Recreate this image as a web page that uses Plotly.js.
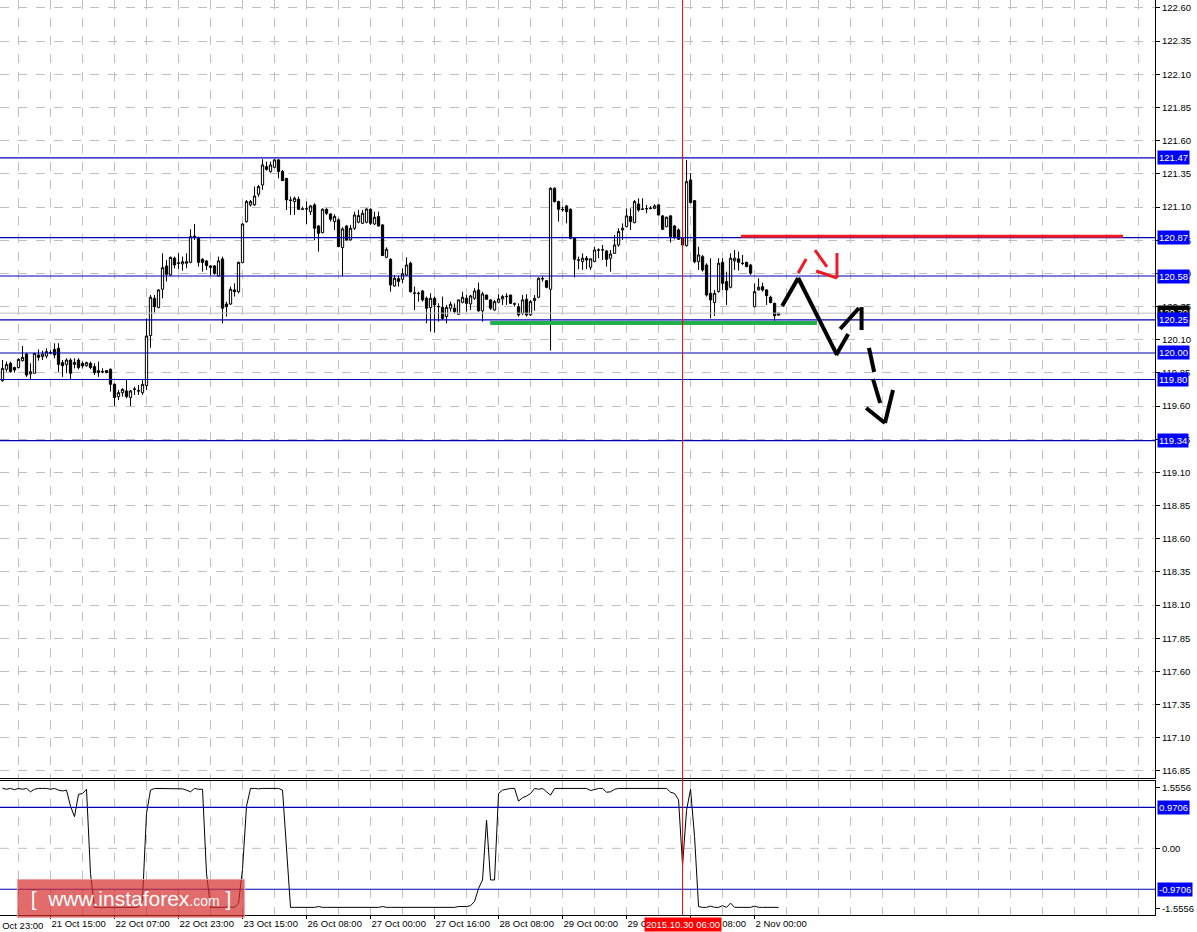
<!DOCTYPE html>
<html><head><meta charset="utf-8">
<script src="https://cdn.plot.ly/plotly-3.0.1.min.js"></script>
<style>html,body{margin:0;padding:0;background:#fff;} #chart{width:1197px;height:932px;}</style>
</head><body><div id="chart"></div>
<script>
// ---- H1 candles (bar index 0 = 21 Oct 03:00) ----
const openP = [119.791,119.877,119.922,119.890,119.890,119.942,119.992,119.842,119.847,119.985,
119.972,119.977,120.002,120.027,120.035,119.927,119.914,119.947,119.914,119.947,
119.922,119.904,119.922,119.897,119.867,119.860,119.867,119.877,119.764,119.671,
119.701,119.714,119.664,119.729,119.716,119.701,119.754,120.131,120.412,120.342,
120.480,120.656,120.588,120.714,120.676,120.671,120.676,120.683,120.880,120.864,
120.706,120.693,120.656,120.656,120.580,120.709,120.369,120.369,120.475,120.462,
120.681,120.990,121.116,121.116,121.196,121.266,121.404,121.367,121.399,121.455,
121.367,121.316,121.153,121.141,121.158,121.083,121.085,121.065,121.116,120.957,
120.907,121.083,121.048,120.990,121.003,120.794,120.957,120.852,120.940,120.985,
120.977,120.985,121.083,120.972,121.028,120.965,120.721,120.706,120.505,120.560,
120.555,120.588,120.676,120.450,120.450,120.467,120.412,120.342,120.412,120.349,
120.344,120.274,120.337,120.337,120.292,120.382,120.412,120.370,120.412,120.475,
120.317,120.437,120.400,120.324,120.382,120.407,120.425,120.437,120.369,120.349,
120.299,120.405,120.287,120.395,120.420,120.558,120.545,120.480,121.241,121.141,
121.083,121.108,121.083,120.864,120.701,120.689,120.714,120.646,120.689,120.776,
120.776,120.769,120.714,120.751,120.814,120.927,120.952,121.028,120.982,121.123,
121.085,121.088,121.088,121.090,121.116,121.033,120.952,121.033,120.957,120.927,
120.864,120.809,121.304,121.148,120.688,120.726,120.663,120.450,120.380,120.462,
120.683,120.538,120.495,120.694,120.709,120.676,120.683,120.663,120.349,120.475,
120.500,120.475,120.420,120.374,120.285];
const highP = [119.947,119.935,119.935,119.897,119.960,120.053,120.002,119.922,120.000,120.027,
120.017,120.035,120.020,120.073,120.073,119.947,119.960,119.960,119.960,119.960,
119.935,119.935,119.935,119.922,119.935,119.884,119.872,119.884,119.771,119.721,
119.734,119.802,119.721,119.746,119.759,119.796,120.261,120.437,120.437,120.480,
120.751,120.701,120.726,120.726,120.751,120.726,120.751,120.932,120.972,120.877,
120.714,120.701,120.663,120.663,120.726,120.726,120.387,120.500,120.525,120.688,
120.977,121.153,121.153,121.254,121.266,121.460,121.442,121.442,121.460,121.460,
121.379,121.316,121.178,121.178,121.178,121.103,121.141,121.116,121.128,120.965,
121.090,121.090,121.053,121.045,121.015,120.947,120.965,120.965,121.065,121.078,
121.078,121.090,121.090,121.065,121.065,120.972,120.796,120.714,120.588,120.580,
120.638,120.721,120.689,120.500,120.462,120.475,120.425,120.450,120.425,120.374,
120.425,120.362,120.387,120.374,120.400,120.462,120.437,120.437,120.488,120.530,
120.462,120.437,120.405,120.400,120.442,120.437,120.450,120.437,120.380,120.374,
120.437,120.442,120.400,120.437,120.570,120.580,120.550,121.249,121.249,121.148,
121.103,121.116,121.090,120.869,120.726,120.751,120.731,120.714,120.801,120.789,
120.814,120.776,120.776,120.889,120.940,120.977,121.090,121.090,121.153,121.166,
121.166,121.116,121.108,121.121,121.121,121.040,121.028,121.040,120.965,120.940,
120.872,121.455,121.354,121.153,120.801,120.739,120.676,120.714,120.475,120.714,
120.714,120.613,120.751,120.776,120.764,120.739,120.688,120.671,120.525,120.563,
120.530,120.480,120.432,120.379,120.300];
const lowP = [119.784,119.859,119.852,119.852,119.884,119.935,119.820,119.797,119.847,119.942,
119.947,119.960,119.990,119.960,119.859,119.820,119.847,119.797,119.884,119.877,
119.884,119.897,119.877,119.834,119.820,119.847,119.847,119.709,119.601,119.646,
119.671,119.658,119.601,119.684,119.684,119.684,119.721,120.040,120.304,120.337,
120.412,120.538,120.583,120.638,120.631,120.620,120.638,120.676,120.852,120.651,
120.613,120.626,120.586,120.590,120.575,120.224,120.274,120.362,120.425,120.450,
120.676,120.982,121.103,121.108,121.178,121.229,121.374,121.359,121.392,121.316,
121.296,121.078,121.040,121.040,121.078,121.078,120.972,121.040,120.852,120.764,
120.902,121.040,120.990,120.927,120.797,120.580,120.847,120.847,120.927,120.977,
120.972,120.977,120.965,120.965,120.952,120.731,120.714,120.462,120.500,120.500,
120.525,120.581,120.455,120.324,120.387,120.387,120.224,120.161,120.154,120.236,
120.249,120.224,120.312,120.299,120.287,120.374,120.312,120.324,120.400,120.312,
120.236,120.400,120.324,120.319,120.374,120.362,120.362,120.369,120.349,120.274,
120.287,120.274,120.279,120.319,120.412,120.538,120.488,120.018,121.133,120.990,
121.065,120.977,120.857,120.570,120.631,120.626,120.631,120.626,120.684,120.714,
120.701,120.651,120.613,120.746,120.801,120.852,120.947,120.927,120.977,121.065,
121.078,121.053,121.083,121.083,121.035,120.927,120.947,120.832,120.857,120.852,
120.809,120.801,121.128,120.676,120.626,120.613,120.425,120.261,120.279,120.455,
120.475,120.362,120.487,120.626,120.621,120.663,120.646,120.588,120.344,120.470,
120.462,120.362,120.374,120.244,120.283];
const closeP = [119.884,119.914,119.859,119.872,119.952,119.967,119.834,119.859,119.997,119.967,
119.992,120.010,120.000,119.985,119.914,119.904,119.947,119.847,119.929,119.890,
119.902,119.927,119.890,119.852,119.852,119.857,119.852,119.764,119.664,119.701,
119.726,119.671,119.714,119.726,119.714,119.764,120.128,120.420,120.349,120.475,
120.643,120.593,120.721,120.663,120.678,120.688,120.688,120.877,120.870,120.683,
120.683,120.658,120.646,120.600,120.694,120.337,120.349,120.480,120.462,120.683,
120.972,121.141,121.141,121.183,121.254,121.417,121.384,121.417,121.455,121.367,
121.299,121.153,121.150,121.166,121.083,121.085,121.087,121.108,120.940,120.902,
121.083,121.053,121.008,121.028,120.802,120.935,120.852,120.940,121.040,121.035,
121.053,121.085,120.977,121.023,120.957,120.734,120.781,120.513,120.563,120.540,
120.596,120.663,120.462,120.452,120.448,120.400,120.337,120.412,120.362,120.350,
120.261,120.344,120.367,120.312,120.400,120.420,120.374,120.430,120.467,120.317,
120.445,120.405,120.337,120.387,120.407,120.425,120.427,120.374,120.370,120.287,
120.400,120.287,120.387,120.412,120.563,120.560,120.495,121.241,121.141,121.083,
121.080,121.065,120.864,120.706,120.700,120.714,120.701,120.709,120.776,120.775,
120.778,120.706,120.746,120.814,120.915,120.940,121.033,120.990,121.141,121.078,
121.083,121.087,121.090,121.108,121.040,120.932,121.023,120.877,120.872,120.857,
120.814,121.291,121.133,120.688,120.739,120.626,120.437,120.400,120.450,120.676,
120.525,120.475,120.714,120.714,120.683,120.675,120.651,120.601,120.462,120.495,
120.475,120.432,120.380,120.281,120.300];

// ---- oscillator in lower pane ----
const oscValues = [1.42,1.40,1.42,1.39,1.42,1.40,1.42,1.34,1.40,1.42,
1.42,1.42,1.40,1.42,1.38,1.36,1.38,1.00,0.75,1.28,
1.30,1.40,-0.60,-1.40,-1.40,-1.41,-1.40,-1.40,-1.41,-1.40,
-1.40,-1.41,-1.40,-1.40,-1.39,-1.22,0.83,1.38,1.42,1.42,
1.41,1.42,1.42,1.42,1.42,1.41,1.38,1.34,1.42,1.40,
1.40,-0.60,-1.40,-1.40,-1.41,-1.40,-1.39,-1.40,-1.40,-1.30,
-0.50,1.00,1.42,1.42,1.41,1.42,1.42,1.41,1.42,1.42,
1.38,-0.12,-1.40,-1.40,-1.40,-1.40,-1.40,-1.40,-1.40,-1.38,
-1.40,-1.40,-1.40,-1.40,-1.40,-1.40,-1.40,-1.40,-1.40,-1.40,
-1.40,-1.40,-1.40,-1.40,-1.40,-1.38,-1.40,-1.40,-1.40,-1.40,
-1.40,-1.40,-1.40,-1.40,-1.40,-1.40,-1.40,-1.40,-1.40,-1.40,
-1.40,-1.40,-1.40,-1.40,-1.38,-1.38,-1.38,-1.36,-1.26,-0.95,
-0.75,0.67,-0.75,-0.75,1.30,1.38,1.40,1.42,1.42,1.12,
1.20,1.24,1.30,1.42,1.40,1.42,1.34,1.26,1.42,1.42,
1.42,1.41,1.42,1.42,1.42,1.41,1.42,1.37,1.40,1.42,
1.42,1.33,1.34,1.40,1.42,1.42,1.42,1.41,1.42,1.42,
1.42,1.42,1.42,1.41,1.42,1.42,1.42,1.33,1.30,1.15,
-0.40,0.90,1.40,0.28,-1.38,-1.40,-1.40,-1.37,-1.40,-1.40,
-1.36,-1.40,-1.30,-1.40,-1.40,-1.40,-1.40,-1.40,-1.37,-1.40,
-1.40,-1.40,-1.40,-1.40,-1.40];

// ---- axis labels ----
const priceTicks = [122.60,122.35,122.10,121.85,121.60,121.35,121.10,120.85,120.60,120.35,120.10,119.85,
119.60,119.35,119.10,118.85,118.60,118.35,118.10,117.85,117.60,117.35,117.10,116.85];
const priceTickText = ['122.60','122.35','122.10','121.85','121.60','121.35','121.10','120.85','120.60','120.35','120.10','119.85',
'119.60','119.35','119.10','118.85','118.60','118.35','118.10','117.85','117.60','117.35','117.10','116.85'];
const timeTickBars = [12,28,44,60,76,92,108,124,140,156,172,188];
const timeTickText = ['21 Oct 15:00','22 Oct 07:00','22 Oct 23:00','23 Oct 15:00','26 Oct 08:00','27 Oct 00:00',
'27 Oct 16:00','28 Oct 08:00','29 Oct 00:00','29 Oct 16:00','30 Oct 08:00','2 Nov 00:00'];
const firstTimeLabel = '20 Oct 23:00';
const oscTickVals = [1.436, 0, -1.42];
const oscTickText = ['1.5556','0.00','-1.5556'];

// ---- horizontal levels ----
const levelValues = [121.47, 120.87, 120.58, 120.25, 120.00, 119.80, 119.34];
const levelText = ['121.47','120.87','120.58','120.25','120.00','119.80','119.34'];
const bidValue = 120.30;
const bidText = '120.30';
const oscLevels = [0.9706, -0.9706];
const oscLevelText = ['0.9706','-0.9706'];
const markerBar = 170;
const markerText = '2015.10.30 06:00';

// ---- hand drawings: [bar0, price0, bar1, price1] ----
const greenLine = [121.9, 120.226, 203.6, 120.226];
const redLine = [184.6, 120.879, 280.1, 120.879];
const blackStrokes = [
  [194.9,120.354,198.9,120.565],
  [198.9,120.565,208.6,119.985],
  [208.4,119.985,211.4,120.143],
  [209.4,120.181,214.1,120.339],
  [214.75,120.346,214.75,120.173],
  [216.6,120.038,217.9,119.857],
  [217.6,119.804,219.4,119.623],
  [215.9,119.585,220.6,119.472],
  [220.6,119.472,222.6,119.721]
];
const redStrokes = [
  [198.9,120.603,200.9,120.708],
  [203.1,120.776,206.1,120.648],
  [203.4,120.618,208.6,120.565],
  [208.6,120.565,208.6,120.753]
];

const barIdx = openP.map((_, k) => k);
const FONT = 'Liberation Sans, Arial, sans-serif';
const GRID = '#c0c0c0';
const LVL = '#0000b4';

const traces = [
  {
    type: 'candlestick', x: barIdx, open: openP, high: highP, low: lowP, close: closeP,
    xaxis: 'x', yaxis: 'y', whiskerwidth: 0, hoverinfo: 'skip',
    increasing: {line: {color: '#000', width: 1}, fillcolor: '#ffffff'},
    decreasing: {line: {color: '#000', width: 1}, fillcolor: '#000000'}
  },
  {
    type: 'scatter', mode: 'lines', x: barIdx, y: oscValues, xaxis: 'x2', yaxis: 'y2',
    line: {color: '#000', width: 1}, hoverinfo: 'skip'
  }
];

const shapes = [];
levelValues.forEach(v => shapes.push({type:'line', xref:'paper', x0:0, x1:1, yref:'y', y0:v, y1:v, line:{color:LVL, width:1.2}}));
shapes.push({type:'line', xref:'paper', x0:0, x1:1, yref:'y', y0:bidValue, y1:bidValue, line:{color:'#c0c0c0', width:1}});
shapes.push({type:'line', xref:'paper', x0:0, x1:1, yref:'y2', y0:0, y1:0, line:{color:GRID, width:1, dash:'dash'}, layer:'below'});
oscLevels.forEach(v => shapes.push({type:'line', xref:'paper', x0:0, x1:1, yref:'y2', y0:v, y1:v, line:{color:LVL, width:1.2}}));
shapes.push({type:'line', xref:'x', x0:greenLine[0], x1:greenLine[2], yref:'y', y0:greenLine[1], y1:greenLine[3], line:{color:'#22b14c', width:4}});
shapes.push({type:'line', xref:'x', x0:redLine[0], x1:redLine[2], yref:'y', y0:redLine[1], y1:redLine[3], line:{color:'#ed1c24', width:3}});
blackStrokes.forEach(s => shapes.push({type:'line', xref:'x', yref:'y', x0:s[0], y0:s[1], x1:s[2], y1:s[3], line:{color:'#000', width:4}}));
redStrokes.forEach(s => shapes.push({type:'line', xref:'x', yref:'y', x0:s[0], y0:s[1], x1:s[2], y1:s[3], line:{color:'#ed1c24', width:3}}));
shapes.push({type:'line', xref:'x', x0:markerBar, x1:markerBar, yref:'paper', y0:0, y1:1, line:{color:'#ff0000', width:1}});

const annotations = [];
annotations.push({xref:'paper', x:1, xanchor:'left', xshift:2, yref:'y', y:bidValue, yanchor:'middle', yshift:1,
  text:bidText, showarrow:false, bgcolor:'#000', borderpad:1, font:{family:FONT, size:9.5, color:'#fff'}});
levelValues.forEach((v, k) => annotations.push({xref:'paper', x:1, xanchor:'left', xshift:2, yref:'y', y:v, yanchor:'middle',
  text:levelText[k], showarrow:false, bgcolor:'#0000ff', borderpad:1, font:{family:FONT, size:9.5, color:'#fff'}}));
oscLevels.forEach((v, k) => annotations.push({xref:'paper', x:1, xanchor:'left', xshift:2, yref:'y2', y:v, yanchor:'middle',
  text:oscLevelText[k], showarrow:false, bgcolor:'#0000ff', borderpad:1, font:{family:FONT, size:9.5, color:'#fff'}}));
annotations.push({xref:'paper', x:-13/1155, xanchor:'left', yref:'paper', y:0, yanchor:'top', yshift:-3,
  text:firstTimeLabel, showarrow:false, font:{family:FONT, size:9.5, color:'#000'}});
annotations.push({xref:'x2', x:markerBar, xanchor:'center', yref:'paper', y:0, yanchor:'top', yshift:-2,
  text:markerText, showarrow:false, bgcolor:'#ff0000', borderpad:1, font:{family:FONT, size:9.5, color:'#fff'}});
annotations.push({xref:'paper', x:17/1155, xanchor:'left', yref:'paper', y:-3/915, yanchor:'bottom',
  width:226, height:37, borderpad:0, align:'center', valign:'middle',
  text:'[&nbsp;&nbsp;www.instaforex<span style="font-size:14px">.com</span>&nbsp;]',
  showarrow:false, bgcolor:'rgba(214,44,44,0.7)', bordercolor:'rgba(240,160,160,0.9)', borderwidth:1,
  font:{family:FONT, size:21, color:'#fff'}});

const xr = [-0.625, 288.1];
const layout = {
  width: 1197, height: 932,
  margin: {l:0, r:42, t:0, b:17, pad:0, autoexpand:false},
  paper_bgcolor: '#fff', plot_bgcolor: '#fff', showlegend: false,
  boxgap: 0.2,
  font: {family: FONT, size: 9.5, color: '#000'},
  xaxis: {domain:[0,1], anchor:'y', range:xr, showticklabels:false, ticks:'', tickmode:'linear', tick0:4, dtick:8,
    showgrid:true, gridcolor:GRID, griddash:'dash', gridwidth:1, zeroline:false,
    showline:true, mirror:true, linecolor:'#000', linewidth:1, rangeslider:{visible:false}, fixedrange:true},
  yaxis: {domain:[0.1497,1], anchor:'x', side:'right', range:[116.797,122.66],
    tickmode:'array', tickvals:priceTicks, ticktext:priceTickText, ticks:'outside', ticklen:4, tickcolor:'#000',
    showgrid:true, gridcolor:GRID, griddash:'dash', zeroline:false,
    showline:true, mirror:true, linecolor:'#000', linewidth:1, tickfont:{family:FONT, size:9.5, color:'#000'}, fixedrange:true},
  xaxis2: {domain:[0,1], anchor:'y2', range:xr, tickmode:'array', tickvals:timeTickBars, ticktext:timeTickText,
    ticks:'outside', ticklen:3, tickcolor:'#000', ticklabelposition:'outside right',
    showgrid:true, gridcolor:GRID, griddash:'dash', zeroline:false,
    minor:{tickmode:'linear', tick0:4, dtick:8, showgrid:true, gridcolor:GRID, griddash:'dash', ticks:''},
    showline:true, mirror:true, linecolor:'#000', linewidth:1, tickfont:{family:FONT, size:9.5, color:'#000'}, fixedrange:true},
  yaxis2: {domain:[0,0.1464], anchor:'x2', side:'right', range:[-1.581,1.595],
    tickmode:'array', tickvals:oscTickVals, ticktext:oscTickText, ticks:'outside', ticklen:4, tickcolor:'#000',
    showgrid:false, zeroline:false, showline:true, mirror:true, linecolor:'#000', linewidth:1,
    tickfont:{family:FONT, size:9.5, color:'#000'}, fixedrange:true},
  shapes: shapes,
  annotations: annotations
};

Plotly.newPlot('chart', traces, layout, {displayModeBar:false, staticPlot:true});
</script>
</body></html>
